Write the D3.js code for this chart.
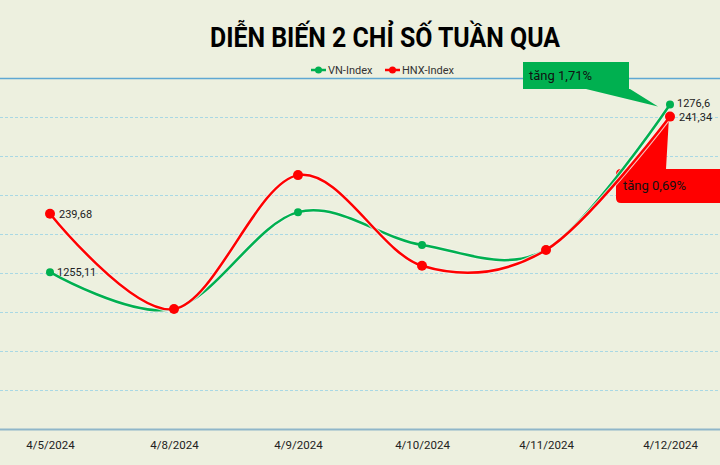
<!DOCTYPE html>
<html lang="vi">
<head>
    <meta charset="UTF-8">
    <title>Diễn biến 2 chỉ số tuần qua</title>
    <script src="https://d3js.org/d3.v7.min.js"></script>
    <style>
        body, html { margin: 0; padding: 0; background: #edf0df; overflow: hidden; }
        svg { display: block; font-family: Roboto, "Noto Sans", sans-serif; }
    </style>
</head>
<body>
    <svg width="720" height="465"></svg>
    <script>
        const width = 720, height = 465;

        // Data
        const dates = ["4/5/2024", "4/8/2024", "4/9/2024", "4/10/2024", "4/11/2024", "4/12/2024"];
        const vnIndex = [1255.11, 1250.4, 1262.8, 1258.6, 1258.0, 1276.6];
        const hnxIndex = [239.68, 238.05, 240.34, 238.79, 239.06, 241.34];
        const vnTicks = [1235, 1240, 1245, 1250, 1255, 1260, 1265, 1270, 1275, 1280];

        const svg = d3.select("svg");
        svg.append("rect").attr("width", width).attr("height", height).attr("fill", "#edf0df");

        const x = d3.scalePoint().domain(dates).range([50, 670]);
        const yVn = d3.scaleLinear().domain([1235, 1280]).range([429, 78]);
        const yHnx = d3.scaleLinear().domain([236, 242]).range([429, 78]);

        // Title
        svg.append("text")
            .attr("x", 385).attr("y", 47)
            .attr("text-anchor", "middle")
            .attr("font-size", 27).attr("font-weight", "bold")
            .attr("textLength", 350).attr("lengthAdjust", "spacingAndGlyphs")
            .attr("fill", "#000")
            .text("DIỄN BIẾN 2 CHỈ SỐ TUẦN QUA");

        // Gridlines
        const grid = svg.append("g")
            .call(d3.axisLeft(yVn).tickValues(vnTicks).tickSize(-width).tickFormat(""));
        grid.select(".domain").remove();
        grid.selectAll(".tick line")
            .attr("stroke", "#a9d8e4").attr("stroke-width", 1).attr("stroke-dasharray", "3,2");
        grid.selectAll(".tick").filter(d => d === 1280).select("line")
            .attr("stroke", "#5fa8d3").attr("stroke-dasharray", null).attr("stroke-width", 1.5);
        grid.selectAll(".tick").filter(d => d === 1235).select("line")
            .attr("stroke", "#8fb6c9").attr("stroke-dasharray", null).attr("stroke-width", 2);

        // X axis labels
        const xAxis = svg.append("g")
            .attr("transform", "translate(0,429)")
            .call(d3.axisBottom(x).tickSize(0).tickPadding(12));
        xAxis.select(".domain").remove();
        xAxis.selectAll("text")
            .attr("font-family", "Roboto, sans-serif").attr("font-size", 11.5).attr("fill", "#222");

        const series = [
            { name: "VN-Index", values: vnIndex, y: yVn, color: "#00b050", r: 4 },
            { name: "HNX-Index", values: hnxIndex, y: yHnx, color: "#ff0000", r: 5 }
        ];

        // Callouts (drawn under the lines)
        const lastX = x(dates[5]);
        const vnLastY = yVn(vnIndex[5]);
        const hnxLastY = yHnx(hnxIndex[5]);

        svg.append("path")
            .attr("d", `M523,62 H629 V89 H${lastX - 40} L${lastX - 12},${vnLastY + 2} L586,89 H523 Z`)
            .attr("fill", "#00b050");
        svg.append("text").attr("x", 529).attr("y", 80)
            .attr("font-size", 13).attr("fill", "#111").text("tăng 1,71%");

        svg.append("path")
            .attr("d", `M621,169 H630 L${lastX - 1},${hnxLastY} L666,169 H722 V203 H621 Q616,203 616,198 V174 Q616,169 621,169 Z`)
            .attr("fill", "#ff0000");
        svg.append("text").attr("x", 623).attr("y", 190)
            .attr("font-size", 13).attr("fill", "#111").text("tăng 0,69%");

        series.forEach(s => {
            const line = d3.line()
                .x((d, i) => x(dates[i]))
                .y(d => s.y(d))
                .curve(d3.curveCardinal.tension(0));
            // light halo so the line reads over the callout
            svg.append("path")
                .datum(s.values)
                .attr("d", line)
                .attr("fill", "none")
                .attr("stroke", "#f4f4ee")
                .attr("stroke-opacity", 0.8)
                .attr("stroke-width", 4.5);
            svg.append("path")
                .datum(s.values)
                .attr("d", line)
                .attr("fill", "none")
                .attr("stroke", s.color)
                .attr("stroke-width", 2.5);
            svg.append("g").selectAll("circle")
                .data(s.values)
                .enter().append("circle")
                .attr("cx", (d, i) => x(dates[i]))
                .attr("cy", d => s.y(d))
                .attr("r", s.r)
                .attr("fill", s.color);
        });

        // Data labels
        const fmt = v => String(v).replace(".", ",");
        const labels = [
            { text: fmt(hnxIndex[0]), x: x(dates[0]) + 9, y: yHnx(hnxIndex[0]) },
            { text: fmt(vnIndex[0]), x: x(dates[0]) + 7, y: yVn(vnIndex[0]) },
            { text: fmt(vnIndex[5]), x: lastX + 7, y: vnLastY - 1 },
            { text: fmt(hnxIndex[5]), x: lastX + 9, y: hnxLastY + 1 }
        ];
        svg.append("g").selectAll("text")
            .data(labels)
            .enter().append("text")
            .attr("x", d => d.x).attr("y", d => d.y)
            .attr("dy", "0.35em")
            .attr("font-size", 11).attr("fill", "#222")
            .text(d => d.text);

        // Legend
        const legend = svg.append("g").attr("transform", "translate(0,70)");
        const legendItems = [
            { name: "VN-Index", color: "#00b050", x: 311 },
            { name: "HNX-Index", color: "#ff0000", x: 385 }
        ];
        legendItems.forEach(l => {
            legend.append("line").attr("x1", l.x).attr("x2", l.x + 15)
                .attr("stroke", l.color).attr("stroke-width", 2.5);
            legend.append("circle").attr("cx", l.x + 7.5).attr("r", 3.5).attr("fill", l.color);
            legend.append("text").attr("x", l.x + 17).attr("dy", "0.35em")
                .attr("font-size", 11).attr("fill", "#333").text(l.name);
        });
    </script>
</body>
</html>
